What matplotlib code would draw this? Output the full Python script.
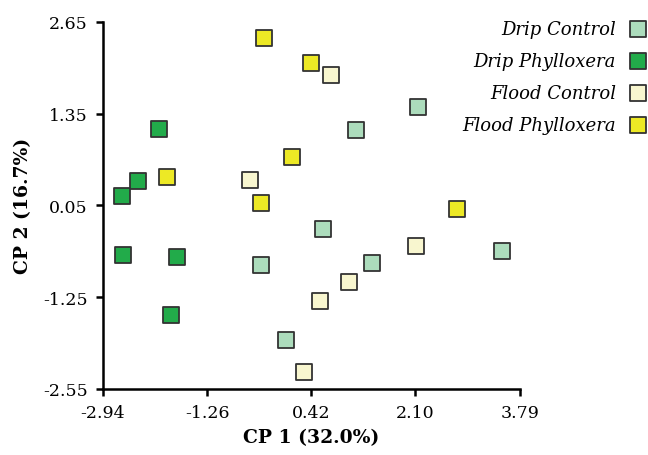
import matplotlib
matplotlib.use("Agg")
import matplotlib.pyplot as plt

# PCA scores
drip_control_x = [2.14, 1.15, 0.61, 1.40, 3.50, -0.39, 0.01]
drip_control_y = [1.44, 1.12, -0.28, -0.77, -0.60, -0.79, -1.86]

drip_phyl_x = [-2.04, -2.38, -2.64, -2.62, -1.74, -1.84]
drip_phyl_y = [1.13, 0.40, 0.18, -0.65, -0.68, -1.50]

flood_control_x = [-0.57, 0.75, 2.12, 1.03, 0.57, 0.30]
flood_control_y = [0.41, 1.90, -0.53, -1.04, -1.30, -2.31]

flood_phyl_x = [-0.34, 0.42, 0.12, -1.90, -0.39, 2.77]
flood_phyl_y = [2.42, 2.06, 0.74, 0.45, 0.08, 0.00]

xticks = [-2.94, -1.26, 0.42, 2.10, 3.79]
yticks = [-2.55, -1.25, 0.05, 1.35, 2.65]

plt.rcParams['font.family'] = 'DejaVu Serif'

fig = plt.figure(figsize=(6.48, 4.56), dpi=100)
ax = fig.add_axes([0.159, 0.145, 0.643, 0.805])

style = dict(marker='s', s=140, edgecolors='#333333', linewidths=1.3, zorder=3, clip_on=False)
ax.scatter(drip_control_x, drip_control_y, c='#acdcbc', label='Drip Control', **style)
ax.scatter(drip_phyl_x, drip_phyl_y, c='#22ab4a', label='Drip Phylloxera', **style)
ax.scatter(flood_control_x, flood_control_y, c='#f8f6cf', label='Flood Control', **style)
ax.scatter(flood_phyl_x, flood_phyl_y, c='#ede925', label='Flood Phylloxera', **style)

ax.set_xlim(-2.94, 3.79)
ax.set_ylim(-2.55, 2.65)
ax.set_xticks(xticks)
ax.set_xticklabels(['%.2f' % v for v in xticks])
ax.set_yticks(yticks)
ax.set_yticklabels(['%.2f' % v for v in yticks])
ax.tick_params(direction='out', length=5, width=1.8, labelsize=12.5, pad=6)

for side in ['top', 'right']:
    ax.spines[side].set_visible(False)
for side in ['left', 'bottom']:
    ax.spines[side].set_linewidth(1.8)

ax.set_xlabel('CP 1 (32.0%)', fontsize=13.5, fontweight='bold', labelpad=5)
ax.set_ylabel('CP 2 (16.7%)', fontsize=13.5, fontweight='bold', labelpad=8)

leg = fig.legend(loc='upper right', bbox_to_anchor=(646.7 / 648, 0.954), frameon=False,
                 markerfirst=False, prop={'style': 'italic', 'size': 13},
                 handlelength=1.0, handletextpad=0.7, labelspacing=0.78,
                 borderpad=0, borderaxespad=0)

fig.savefig('out.png', dpi=100)
